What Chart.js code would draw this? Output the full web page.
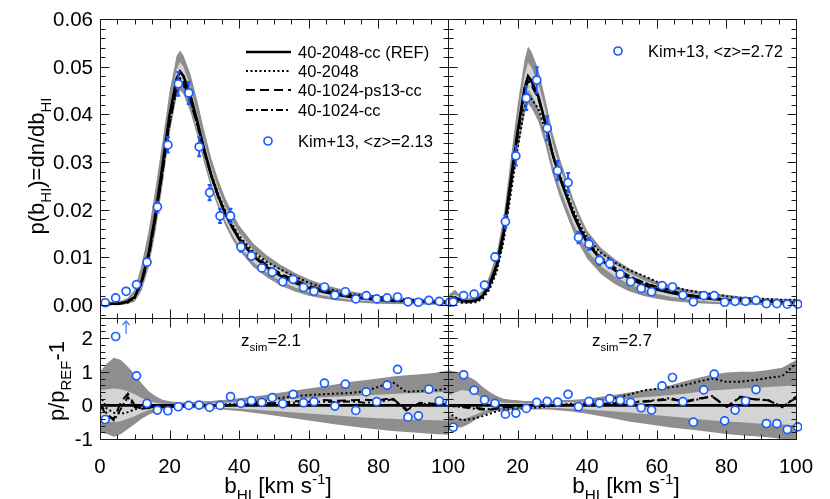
<!DOCTYPE html>
<html>
<head>
<meta charset="utf-8">
<script src="https://cdn.jsdelivr.net/npm/chart.js@4.4.0/dist/chart.umd.min.js"></script>
<style>
  html, body { margin: 0; padding: 0; background: #fff; }
  #wrap { position: relative; width: 830px; height: 499px; }
  #wrap canvas { position: absolute; left: 0; top: 0; }
</style>
</head>
<body>
<div id="wrap">
  <canvas id="tl" width="830" height="499"></canvas>
  <canvas id="tr" width="830" height="499"></canvas>
  <canvas id="bl" width="830" height="499"></canvas>
  <canvas id="br" width="830" height="499"></canvas>
</div>
<script>
// b_HI grid of the simulated distributions [km/s]
const bGrid = [0, 2, 4, 6, 8, 10, 12, 14, 16, 18, 20, 22, 23, 24, 26, 28, 30, 32, 34, 36, 38, 40,
  44, 48, 52, 56, 60, 64, 68, 72, 76, 80, 84, 88, 92, 96, 100];

// reference run 40-2048-cc, p(b_HI)
const refL = [0.0003, 0.0003, 0.0003, 0.0004, 0.0007, 0.0017, 0.0052, 0.0110, 0.0195, 0.0295, 0.0400,
  0.0475, 0.0490, 0.0480, 0.0440, 0.0385, 0.0325, 0.0272, 0.0228, 0.0192, 0.0163, 0.0138,
  0.0103, 0.0079, 0.0061, 0.0047, 0.0036, 0.0028, 0.0022, 0.0017, 0.0014, 0.0011, 0.0009, 0.0008, 0.0007, 0.0006, 0.0005];
const refR = [0.0010, 0.0016, 0.0009, 0.0008, 0.0010, 0.0020, 0.0045, 0.0085, 0.0155, 0.0260, 0.0365,
  0.0455, 0.0480, 0.0470, 0.0437, 0.0382, 0.0318, 0.0270, 0.0230, 0.0190, 0.0158, 0.0130,
  0.0095, 0.0073, 0.0056, 0.0043, 0.0033, 0.0026, 0.0020, 0.0016, 0.0013, 0.0011, 0.0009, 0.0008, 0.0007, 0.0006, 0.0005];

// other runs, relative to REF (p/p_REF - 1), z_sim = 2.1
const dottedL = [0.30, -0.10, -0.22, -0.25, -0.20, -0.12, -0.06, -0.05, -0.05, -0.04, -0.04,
  -0.05, -0.05, -0.04, -0.03, -0.01, 0.00, 0.01, 0.02, 0.03, 0.04, 0.05,
  0.09, 0.14, 0.22, 0.27, 0.31, 0.33, 0.35, 0.37, 0.42, 0.55, 0.70, 0.40, 0.43, 0.45, 0.50];
const dashedL = [0.00, -0.30, -0.40, 0.10, 0.35, 0.00, -0.10, -0.08, -0.06, -0.05, -0.05,
  -0.04, -0.03, -0.03, -0.03, -0.02, -0.02, -0.01, -0.01, 0.00, 0.01, 0.02,
  0.04, 0.06, 0.08, 0.12, 0.14, 0.16, 0.14, 0.15, 0.17, 0.15, 0.22, -0.15, 0.08, 0.05, 0.04];
const dashdotL = [0.05, -0.25, -0.45, -0.10, 0.25, -0.05, -0.08, -0.06, -0.05, -0.04, -0.03,
  -0.03, -0.03, -0.02, -0.02, -0.02, -0.01, -0.01, 0.00, 0.00, 0.01, 0.01,
  0.03, 0.04, 0.06, 0.08, 0.10, 0.11, 0.10, 0.12, 0.08, 0.10, 0.18, -0.10, 0.06, 0.02, 0.03];
const darkHiL = [1.00, 1.25, 1.42, 1.35, 1.15, 0.92, 0.65, 0.42, 0.27, 0.17, 0.12,
  0.10, 0.09, 0.09, 0.10, 0.11, 0.12, 0.13, 0.15, 0.17, 0.19, 0.21,
  0.26, 0.32, 0.38, 0.44, 0.50, 0.56, 0.63, 0.70, 0.75, 0.80, 0.86, 0.90, 0.93, 0.96, 1.04];
const darkLoL = [-0.78, -0.85, -0.93, -0.85, -0.70, -0.55, -0.40, -0.28, -0.20, -0.14, -0.10,
  -0.08, -0.08, -0.08, -0.08, -0.08, -0.09, -0.10, -0.11, -0.13, -0.15, -0.17,
  -0.22, -0.27, -0.33, -0.39, -0.45, -0.51, -0.57, -0.62, -0.67, -0.72, -0.76, -0.79, -0.82, -0.85, -0.87];
const lightHiL = [0.45, 0.48, 0.50, 0.48, 0.42, 0.33, 0.22, 0.13, 0.08, 0.05, 0.04,
  0.04, 0.04, 0.04, 0.04, 0.04, 0.05, 0.06, 0.07, 0.08, 0.09, 0.10,
  0.12, 0.15, 0.18, 0.20, 0.22, 0.24, 0.26, 0.28, 0.30, 0.32, 0.34, 0.36, 0.37, 0.39, 0.40];
const lightLoL = [-0.45, -0.48, -0.50, -0.47, -0.40, -0.32, -0.22, -0.14, -0.09, -0.06, -0.05,
  -0.04, -0.04, -0.04, -0.04, -0.05, -0.05, -0.06, -0.07, -0.08, -0.09, -0.10,
  -0.12, -0.15, -0.18, -0.21, -0.24, -0.27, -0.30, -0.33, -0.36, -0.38, -0.40, -0.42, -0.43, -0.44, -0.45];

// same, z_sim = 2.7
const dottedR = [-0.20, -0.35, -0.44, -0.42, -0.38, -0.32, -0.25, -0.18, -0.13, -0.11, -0.10,
  -0.09, -0.09, -0.08, -0.06, -0.04, -0.01, 0.02, 0.04, 0.05, 0.06, 0.08,
  0.15, 0.22, 0.32, 0.44, 0.49, 0.54, 0.60, 0.71, 0.80, 0.70, 0.70, 0.75, 0.82, 0.87, 1.25];
const dashedR = [0.00, -0.02, -0.03, -0.05, -0.07, -0.10, -0.12, -0.10, -0.06, -0.04, -0.03,
  -0.02, -0.02, -0.02, -0.01, -0.01, 0.00, 0.00, 0.01, 0.01, 0.02, 0.02,
  0.04, 0.06, 0.08, 0.10, 0.14, 0.18, 0.12, 0.20, 0.26, -0.04, 0.24, 0.18, 0.15, -0.04, 0.22];
const dashdotR = [0.00, -0.03, -0.05, -0.08, -0.10, -0.13, -0.11, -0.08, -0.05, -0.04, -0.03,
  -0.02, -0.02, -0.01, -0.01, 0.00, 0.00, 0.01, 0.01, 0.02, 0.02, 0.03,
  0.05, 0.07, 0.10, 0.12, 0.16, 0.22, 0.10, 0.18, 0.28, -0.06, 0.26, 0.18, 0.16, -0.06, 0.26];
const darkHiR = [1.05, 1.00, 0.97, 0.85, 0.73, 0.55, 0.40, 0.28, 0.20, 0.17, 0.15,
  0.13, 0.13, 0.13, 0.13, 0.13, 0.14, 0.15, 0.16, 0.17, 0.18, 0.20,
  0.26, 0.32, 0.38, 0.45, 0.52, 0.60, 0.72, 0.82, 0.92, 0.98, 1.00, 1.00, 1.05, 1.12, 1.35];
const darkLoR = [-0.67, -0.67, -0.65, -0.55, -0.42, -0.30, -0.22, -0.17, -0.14, -0.13, -0.12,
  -0.12, -0.12, -0.12, -0.12, -0.12, -0.13, -0.15, -0.17, -0.19, -0.22, -0.25,
  -0.32, -0.40, -0.48, -0.54, -0.60, -0.66, -0.70, -0.75, -0.80, -0.85, -0.89, -0.92, -0.95, -1.00, -1.05];
const lightHiR = [0.28, 0.38, 0.46, 0.42, 0.33, 0.22, 0.14, 0.10, 0.08, 0.07, 0.06,
  0.06, 0.06, 0.06, 0.06, 0.07, 0.07, 0.08, 0.09, 0.10, 0.10, 0.11,
  0.14, 0.17, 0.20, 0.24, 0.27, 0.31, 0.35, 0.40, 0.44, 0.47, 0.50, 0.52, 0.55, 0.57, 0.60];
const lightLoR = [-0.27, -0.35, -0.42, -0.35, -0.27, -0.18, -0.12, -0.09, -0.07, -0.06, -0.06,
  -0.06, -0.06, -0.06, -0.06, -0.07, -0.07, -0.08, -0.09, -0.10, -0.11, -0.12,
  -0.15, -0.18, -0.21, -0.25, -0.29, -0.33, -0.37, -0.41, -0.45, -0.48, -0.50, -0.53, -0.55, -0.57, -0.59];

// Kim+13 observations
const bObs = [1.5, 4.5, 7.5, 10.5, 13.5, 16.5, 19.5, 22.5, 25.5, 28.5, 31.5, 34.5, 37.5, 40.5, 43.5, 46.5, 49.5,
  52.5, 55.5, 58.5, 61.5, 64.5, 67.5, 70.5, 73.5, 76.5, 79.5, 82.5, 85.5, 88.5, 91.5, 94.5, 97.5, 100.5];
const kimL = [0.0005, 0.0015, 0.0029, 0.0043, 0.0090, 0.0206, 0.0336, 0.0464, 0.0445, 0.0332, 0.0236, 0.0187,
  0.0187, 0.0122, 0.0103, 0.0078, 0.0069, 0.0049, 0.0054, 0.0037, 0.0029, 0.0038, 0.0021, 0.0028, 0.0013,
  0.0020, 0.0013, 0.0015, 0.0017, 0.0007, 0.0006, 0.0010, 0.0008, 0.0006];
const kimErrL = [0.0003, 0.0003, 0.0003, 0.0004, 0.0007, 0.0011, 0.0016, 0.0025, 0.0023, 0.0020, 0.0016, 0.0015,
  0.0015, 0.0010, 0.0008, 0.0007, 0.0006, 0.0005, 0.0005, 0.0004, 0.0004, 0.0004, 0.0003, 0.0003, 0.0003,
  0.0003, 0.0003, 0.0003, 0.0003, 0.0002, 0.0002, 0.0002, 0.0002, 0.0002];
const kimR = [0.0007, 0.0020, 0.0023, 0.0042, 0.0101, 0.0175, 0.0313, 0.0434, 0.0472, 0.0371, 0.0282, 0.0257,
  0.0142, 0.0128, 0.0094, 0.0087, 0.0065, 0.0049, 0.0035, 0.0028, 0.0041, 0.0038, 0.0021, 0.0007, 0.0020,
  0.0020, 0.0006, 0.0008, 0.0008, 0.0010, 0.0003, 0.0003, 0.0002, 0.0002];
const kimErrR = [0.0003, 0.0003, 0.0003, 0.0004, 0.0008, 0.0013, 0.0020, 0.0025, 0.0027, 0.0025, 0.0020, 0.0020,
  0.0012, 0.0012, 0.0010, 0.0009, 0.0007, 0.0006, 0.0005, 0.0005, 0.0005, 0.0005, 0.0004, 0.0003, 0.0003,
  0.0003, 0.0003, 0.0003, 0.0003, 0.0003, 0.0002, 0.0002, 0.0002, 0.0002];
const kimRelL = [-0.42, 2.05, 4.80, 0.88, 0.06, -0.14, -0.16, -0.04, 0.00, 0.01, -0.06, 0.00, 0.26, 0.06, 0.14,
  0.09, 0.23, 0.05, 0.33, 0.08, 0.11, 0.66, -0.02, 0.63, -0.15, 0.40, 0.11, 0.60, 1.07, -0.35, -0.31, 0.48, 0.13, 0.07];
const kimRelR = [-0.65, 0.91, 0.45, 0.16, 0.06, -0.26, -0.23, -0.09, 0.09, 0.12, 0.10, 0.33, -0.04, 0.12, 0.07,
  0.20, 0.15, 0.09, -0.07, -0.14, 0.58, 0.83, 0.11, -0.50, 0.46, 0.93, -0.46, -0.14, 0.13, 0.47, -0.54, -0.54, -0.72, -0.64];

// tick labels
const xTicks = [0, 20, 40, 60, 80, 100];
const yTicksTop = [0.00, 0.01, 0.02, 0.03, 0.04, 0.05, 0.06];
const yTicksBot = [-1, 0, 1, 2];

const FONT = '"Liberation Sans", Arial, Helvetica, sans-serif';
const C = { dark: '#8e8e8e', light: '#d4d4d4', blue: '#1c5cff', arrow: '#4a7dff' };

const pts = (xs, ys) => xs.map((x, i) => ({ x: x, y: ys[i] }));
const onRef = (ref, rel) => ref.map((v, i) => v * (1 + rel[i]));
const relTo = (vals, ref) => vals.map((v, i) => v / ref[i] - 1);

// text with sub/superscripts: parts = [[text, shift]], shift -1 sub, 1 sup
function drawRich(ctx, parts, x, y, size, align) {
    let w = 0;
    parts.forEach(([t, k]) => {
        ctx.font = (k ? size * 0.68 : size) + 'px ' + FONT;
        w += ctx.measureText(t).width;
    });
    let cx = align === 'center' ? x - w / 2 : (align === 'right' ? x - w : x);
    ctx.textAlign = 'left';
    ctx.textBaseline = 'alphabetic';
    parts.forEach(([t, k]) => {
        ctx.font = (k ? size * 0.68 : size) + 'px ' + FONT;
        const dy = k < 0 ? size * 0.3 : (k > 0 ? -size * 0.42 : 0);
        ctx.fillText(t, cx, y + dy);
        cx += ctx.measureText(t).width;
    });
}

function steps(min, max, step) {
    const out = [];
    for (let k = Math.ceil(min / step - 1e-6); k * step <= max + 1e-9; k++) out.push(k * step);
    return out;
}
const isMult = (v, m) => Math.abs(v / m - Math.round(v / m)) < 1e-6;

// IDL style box: inward ticks on all sides, labels, titles
const frame = {
    id: 'frame',
    afterDraw(chart, args, o) {
        const { ctx, chartArea: a } = chart;
        const xs = chart.scales.x, ys = chart.scales.y;
        ctx.save();
        ctx.strokeStyle = '#1a1a1a';
        ctx.lineWidth = 1;
        const L = Math.round(a.left) + 0.5, R = Math.round(a.right) + 0.5;
        const T = Math.round(a.top) + 0.5, B = Math.round(a.bottom) + 0.5;
        ctx.strokeRect(L, T, R - L, B - T);
        ctx.beginPath();
        steps(xs.min, xs.max, o.xMinor).forEach(v => {
            const p = Math.round(xs.getPixelForValue(v)) + 0.5;
            const len = isMult(v, o.xMajor) ? 9 : 5;
            ctx.moveTo(p, B); ctx.lineTo(p, B - len);
            ctx.moveTo(p, T); ctx.lineTo(p, T + len);
        });
        steps(ys.min, ys.max, o.yMinor).forEach(v => {
            const p = Math.round(ys.getPixelForValue(v)) + 0.5;
            const len = isMult(v, o.yMajor) ? 9 : 5;
            ctx.moveTo(L, p); ctx.lineTo(L + len, p);
            ctx.moveTo(R, p); ctx.lineTo(R - len, p);
        });
        ctx.stroke();
        ctx.fillStyle = '#000';
        (o.xLabels || []).forEach(v => {
            drawRich(ctx, [[String(v), 0]], xs.getPixelForValue(v), a.bottom + 34, 20.5, 'center');
        });
        (o.yLabels || []).forEach(v => {
            drawRich(ctx, [[v.toFixed(o.yDigits), 0]], a.left - 7, ys.getPixelForValue(v) + 7, 20.5, 'right');
        });
        (o.texts || []).forEach(t => {
            ctx.save();
            ctx.translate(t.x, t.y);
            if (t.rotate) ctx.rotate(-Math.PI / 2);
            drawRich(ctx, t.parts, 0, t.size * 0.36, t.size, 'center');
            ctx.restore();
        });
        ctx.restore();
    }
};

// vertical error bars, drawn under the open circles
const errorBars = {
    id: 'errorBars',
    beforeDatasetDraw(chart, args) {
        const ds = chart.data.datasets[args.index];
        if (!ds.errors) return;
        const { ctx } = chart;
        const xs = chart.scales.x, ys = chart.scales.y;
        ctx.save();
        ctx.strokeStyle = C.blue;
        ctx.lineWidth = 2;
        ctx.beginPath();
        ds.data.forEach((p, i) => {
            const px = xs.getPixelForValue(p.x);
            const y0 = ys.getPixelForValue(p.y - ds.errors[i]);
            const y1 = ys.getPixelForValue(p.y + ds.errors[i]);
            ctx.moveTo(px, y0); ctx.lineTo(px, y1);
            ctx.moveTo(px - 2, y0); ctx.lineTo(px + 2, y0);
            ctx.moveTo(px - 2, y1); ctx.lineTo(px + 2, y1);
        });
        ctx.stroke();
        ctx.restore();
    }
};

// arrows for points above the plotted range
const offScale = {
    id: 'offScale',
    afterDatasetsDraw(chart) {
        const { ctx, chartArea: a } = chart;
        const xs = chart.scales.x, ys = chart.scales.y;
        chart.data.datasets.forEach(ds => {
            if (!ds.arrows) return;
            ds.data.forEach(p => {
                if (p.y <= ys.max) return;
                const px = xs.getPixelForValue(p.x);
                ctx.save();
                ctx.strokeStyle = C.arrow;
                ctx.lineWidth = 1.3;
                ctx.beginPath();
                ctx.moveTo(px, a.top + 16); ctx.lineTo(px, a.top + 3);
                ctx.moveTo(px - 3.5, a.top + 7); ctx.lineTo(px, a.top + 3); ctx.lineTo(px + 3.5, a.top + 7);
                ctx.stroke();
                ctx.restore();
            });
        });
    }
};

// legend inside the panel
const inLegend = {
    id: 'inLegend',
    afterDraw(chart, args, o) {
        const { ctx } = chart;
        ctx.save();
        ctx.fillStyle = '#000';
        (o.rows || []).forEach(r => {
            const ds = chart.data.datasets.find(d => d.label === r.label);
            ctx.strokeStyle = '#000';
            ctx.lineWidth = ds.borderWidth;
            ctx.setLineDash(ds.borderDash || []);
            ctx.beginPath();
            ctx.moveTo(o.x0, r.y); ctx.lineTo(o.x1, r.y);
            ctx.stroke();
            ctx.setLineDash([]);
            drawRich(ctx, [[r.label, 0]], o.tx, r.y + 6, 16.5, 'left');
        });
        if (o.kim) {
            ctx.strokeStyle = C.blue;
            ctx.fillStyle = '#fff';
            ctx.lineWidth = 1.7;
            ctx.beginPath();
            ctx.arc(o.kim.cx, o.kim.y, 4, 0, Math.PI * 2);
            ctx.fill();
            ctx.stroke();
            ctx.fillStyle = '#000';
            drawRich(ctx, [[o.kim.text, 0]], o.kim.tx, o.kim.y + 6, 16.5, 'left');
        }
        ctx.restore();
    }
};

function modelSets(g) {
    const band = (d, fill, color, order) => ({
        data: pts(bGrid, d), fill: fill, backgroundColor: color,
        borderColor: 'rgba(0,0,0,0)', borderWidth: 0, pointRadius: 0, order: order, clip: 0
    });
    const line = (label, d, dash, w, order) => ({
        label: label, data: pts(bGrid, d), fill: false, borderColor: '#000',
        borderWidth: w, borderDash: dash, pointRadius: 0, order: order, clip: 0
    });
    return [
        band(g.darkHi, '+1', C.dark, 20), band(g.darkLo, false, C.dark, 19),
        band(g.lightHi, '+1', C.light, 18), band(g.lightLo, false, C.light, 17),
        line('40-1024-cc', g.dashdot, [7, 3, 2, 3], 2, 8),
        line('40-1024-ps13-cc', g.dashed, [9, 5], 2, 7),
        line('40-2048', g.dotted, [2, 2.5], 2, 6),
        line('40-2048-cc (REF)', g.ref, [], 2.6, 5)
    ];
}

function kimSet(ys, errs, arrows) {
    return {
        label: 'Kim+13', data: pts(bObs, ys), showLine: false, pointRadius: 4,
        pointBorderWidth: 1.7, pointBorderColor: C.blue, pointBackgroundColor: '#fff',
        errors: errs, arrows: arrows, order: 1, clip: 6
    };
}

function panel(id, pad, yMin, yMax, datasets, frameOpts, legendOpts) {
    return new Chart(document.getElementById(id), {
        type: 'line',
        data: { datasets: datasets },
        options: {
            responsive: false,
            animation: false,
            devicePixelRatio: 1,
            events: [],
            layout: { padding: pad },
            scales: {
                x: { type: 'linear', min: 0, max: 100, display: false },
                y: { type: 'linear', min: yMin, max: yMax, display: false }
            },
            elements: { line: { tension: 0 } },
            plugins: {
                legend: { display: false },
                tooltip: { enabled: false },
                frame: frameOpts,
                inLegend: legendOpts || {}
            }
        },
        plugins: [errorBars, offScale, frame, inLegend]
    });
}

const topFrame = { xMinor: 5, xMajor: 20, yMinor: 0.002, yMajor: 0.01 };
const botFrame = { xMinor: 5, xMajor: 20, yMinor: 0.2, yMajor: 1 };
const xTitle = [['b', 0], ['HI', -1], [' [km s', 0], ['-1', 1], [']', 0]];

const padTL = { left: 100, right: 382, top: 19, bottom: 181 };
const padTR = { left: 448, right: 34, top: 19, bottom: 181 };
const padBL = { left: 100, right: 382, top: 318, bottom: 60 };
const padBR = { left: 448, right: 34, top: 318, bottom: 60 };

panel('tl', padTL, -0.0027, 0.06,
    modelSets({
        ref: refL, dotted: onRef(refL, dottedL), dashed: onRef(refL, dashedL), dashdot: onRef(refL, dashdotL),
        darkHi: onRef(refL, darkHiL), darkLo: onRef(refL, darkLoL),
        lightHi: onRef(refL, lightHiL), lightLo: onRef(refL, lightLoL)
    }).concat([kimSet(kimL, kimErrL, false)]),
    Object.assign({}, topFrame, {
        yLabels: yTicksTop, yDigits: 2,
        texts: [{ parts: [['p(b', 0], ['HI', -1], [')=dn/db', 0], ['HI', -1]], x: 36, y: 166, size: 22, rotate: true }]
    }),
    {
        x0: 246, x1: 291, tx: 298,
        rows: [
            { label: '40-2048-cc (REF)', y: 52 },
            { label: '40-2048', y: 71 },
            { label: '40-1024-ps13-cc', y: 90 },
            { label: '40-1024-cc', y: 110 }
        ],
        kim: { cx: 268, tx: 298, y: 141, text: 'Kim+13, <z>=2.13' }
    });

panel('tr', padTR, -0.0027, 0.06,
    modelSets({
        ref: refR, dotted: onRef(refR, dottedR), dashed: onRef(refR, dashedR), dashdot: onRef(refR, dashdotR),
        darkHi: onRef(refR, darkHiR), darkLo: onRef(refR, darkLoR),
        lightHi: onRef(refR, lightHiR), lightLo: onRef(refR, lightLoR)
    }).concat([kimSet(kimR, kimErrR, false)]),
    topFrame,
    { kim: { cx: 618, tx: 648, y: 51, text: 'Kim+13, <z>=2.72' } });

panel('bl', padBL, -1.0, 2.6,
    modelSets({
        ref: relTo(refL, refL), dotted: dottedL, dashed: dashedL, dashdot: dashdotL,
        darkHi: darkHiL, darkLo: darkLoL, lightHi: lightHiL, lightLo: lightLoL
    }).concat([kimSet(kimRelL, null, true)]),
    Object.assign({}, botFrame, {
        xLabels: xTicks, yLabels: yTicksBot, yDigits: 0,
        texts: [
            { parts: [['p/p', 0], ['REF', -1], ['-1', 0]], x: 56, y: 381, size: 22, rotate: true },
            { parts: xTitle, x: 278, y: 485, size: 22.5 },
            { parts: [['z', 0], ['sim', -1], ['=2.1', 0]], x: 271, y: 340, size: 17 }
        ]
    }));

panel('br', padBR, -1.0, 2.6,
    modelSets({
        ref: relTo(refR, refR), dotted: dottedR, dashed: dashedR, dashdot: dashdotR,
        darkHi: darkHiR, darkLo: darkLoR, lightHi: lightHiR, lightLo: lightLoR
    }).concat([kimSet(kimRelR, null, true)]),
    Object.assign({}, botFrame, {
        xLabels: xTicks.slice(1),
        texts: [
            { parts: xTitle, x: 626, y: 485, size: 22.5 },
            { parts: [['z', 0], ['sim', -1], ['=2.7', 0]], x: 622, y: 340, size: 17 }
        ]
    }));
</script>
</body>
</html>
